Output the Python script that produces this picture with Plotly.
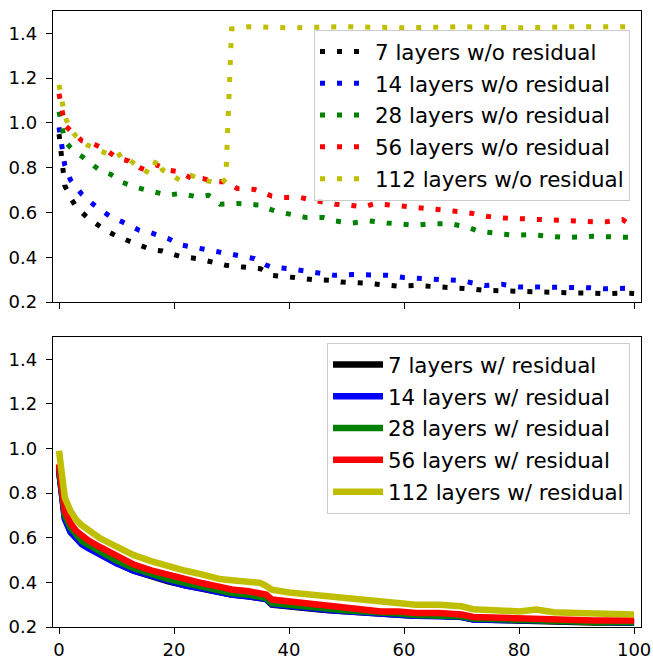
import plotly.graph_objects as go

# ---------------- data: top panel (w/o residual) ----------------
x_k_top = [0, 1, 2, 3, 5, 8, 10, 13, 16, 18, 21, 24, 27, 29, 32, 35, 36, 37, 41, 44, 47, 49, 53, 56, 59, 62, 65, 67, 70, 72, 74, 77, 80, 83, 86, 89, 92, 95, 98, 100]
y_k_top = [0.95, 0.72, 0.665, 0.625, 0.575, 0.522, 0.494, 0.464, 0.434, 0.428, 0.404, 0.394, 0.379, 0.364, 0.356, 0.349, 0.335, 0.319, 0.309, 0.300, 0.297, 0.289, 0.285, 0.279, 0.271, 0.274, 0.270, 0.267, 0.264, 0.258, 0.252, 0.249, 0.247, 0.244, 0.243, 0.241, 0.240, 0.237, 0.240, 0.238]

x_b_top = [0, 1, 2, 3, 4, 6, 8, 9, 11, 14, 16, 19, 21, 24, 26, 29, 31, 34, 36, 37, 40, 42, 45, 48, 51, 54, 57, 60, 63, 66, 69, 71, 72, 74, 77, 80, 83, 86, 89, 92, 95, 98, 100]
y_b_top = [0.98, 0.81, 0.745, 0.71, 0.68, 0.635, 0.595, 0.580, 0.558, 0.520, 0.509, 0.483, 0.456, 0.443, 0.431, 0.416, 0.409, 0.394, 0.365, 0.356, 0.349, 0.341, 0.334, 0.319, 0.323, 0.319, 0.319, 0.309, 0.304, 0.304, 0.297, 0.290, 0.285, 0.274, 0.279, 0.267, 0.267, 0.267, 0.264, 0.264, 0.259, 0.264, 0.262]

x_g_top = [0, 1, 2, 3, 4, 5, 7, 9, 11, 13, 14, 16, 19, 21, 24, 26, 27, 28, 31, 33, 35, 36, 38, 41, 43, 46, 48, 51, 54, 57, 60, 62, 65, 68, 70, 71, 73, 76, 79, 82, 85, 88, 91, 93, 96, 100]
y_g_top = [1.05, 0.92, 0.89, 0.865, 0.85, 0.83, 0.79, 0.77, 0.735, 0.715, 0.707, 0.695, 0.677, 0.685, 0.670, 0.677, 0.660, 0.637, 0.640, 0.636, 0.633, 0.620, 0.603, 0.588, 0.577, 0.577, 0.562, 0.553, 0.562, 0.553, 0.547, 0.543, 0.550, 0.550, 0.540, 0.535, 0.516, 0.506, 0.498, 0.501, 0.494, 0.488, 0.491, 0.494, 0.491, 0.488]

x_r_top = [0, 1, 2, 3, 4, 6, 8, 10, 12, 14, 15, 17, 19, 21, 23, 25, 27, 29, 31, 34, 36, 37, 39, 42, 44, 46, 48, 50, 53, 55, 58, 61, 64, 67, 70, 72, 73, 76, 79, 82, 84, 87, 90, 93, 95, 98, 99, 100]
y_r_top = [1.13, 0.99, 0.965, 0.94, 0.92, 0.906, 0.882, 0.845, 0.831, 0.800, 0.790, 0.812, 0.789, 0.782, 0.752, 0.752, 0.737, 0.737, 0.707, 0.703, 0.680, 0.673, 0.667, 0.667, 0.655, 0.645, 0.637, 0.633, 0.625, 0.640, 0.633, 0.628, 0.622, 0.610, 0.603, 0.595, 0.588, 0.577, 0.573, 0.568, 0.565, 0.565, 0.558, 0.558, 0.558, 0.568, 0.552, 0.560]

x_y_top = [0, 1, 2, 3, 5, 7, 9, 10, 11, 12, 14, 16, 17, 18, 19, 21, 22, 23, 24, 26, 27, 28, 29, 30, 33, 40, 50, 60, 70, 80, 90, 100]
y_y_top = [1.17, 1.03, 0.97, 0.94, 0.90, 0.875, 0.855, 0.848, 0.865, 0.840, 0.800, 0.772, 0.840, 0.790, 0.777, 0.745, 0.760, 0.765, 0.755, 0.740, 0.735, 0.725, 0.750, 1.420, 1.430, 1.425, 1.430, 1.425, 1.430, 1.425, 1.430, 1.430]

# ---------------- data: bottom panel (w/ residual) ----------------
x_bot = [0, 1, 2, 3, 4, 5, 7, 10, 13, 16, 19, 22, 25, 28, 30, 33, 35, 36, 37, 40, 43, 45, 47, 50, 53, 56, 59, 62, 66, 70, 72, 76, 80, 83, 86, 90, 93, 96, 100]
y_k_bot = [0.90, 0.69, 0.63, 0.60, 0.575, 0.56, 0.53, 0.488, 0.452, 0.427, 0.405, 0.387, 0.370, 0.355, 0.345, 0.338, 0.332, 0.325, 0.300, 0.290, 0.285, 0.280, 0.275, 0.270, 0.266, 0.258, 0.256, 0.250, 0.250, 0.245, 0.235, 0.231, 0.227, 0.225, 0.224, 0.223, 0.220, 0.220, 0.219]
y_b_bot = [0.91, 0.685, 0.625, 0.595, 0.57, 0.555, 0.525, 0.485, 0.452, 0.428, 0.403, 0.386, 0.372, 0.356, 0.346, 0.337, 0.333, 0.326, 0.302, 0.292, 0.285, 0.281, 0.276, 0.270, 0.267, 0.259, 0.255, 0.250, 0.249, 0.246, 0.234, 0.232, 0.228, 0.226, 0.224, 0.222, 0.221, 0.220, 0.220]
y_g_bot = [0.92, 0.70, 0.645, 0.61, 0.585, 0.57, 0.54, 0.498, 0.463, 0.437, 0.415, 0.397, 0.380, 0.364, 0.352, 0.344, 0.338, 0.330, 0.307, 0.298, 0.292, 0.286, 0.280, 0.274, 0.270, 0.262, 0.260, 0.254, 0.253, 0.248, 0.238, 0.234, 0.229, 0.228, 0.226, 0.225, 0.222, 0.222, 0.221]
y_r_bot = [0.93, 0.72, 0.665, 0.63, 0.61, 0.59, 0.56, 0.517, 0.480, 0.454, 0.433, 0.413, 0.396, 0.380, 0.368, 0.360, 0.353, 0.345, 0.323, 0.315, 0.307, 0.300, 0.293, 0.286, 0.281, 0.270, 0.270, 0.263, 0.263, 0.256, 0.245, 0.241, 0.236, 0.236, 0.233, 0.233, 0.229, 0.229, 0.229]
y_y_bot = [0.99, 0.78, 0.72, 0.68, 0.655, 0.635, 0.60, 0.56, 0.522, 0.495, 0.472, 0.452, 0.435, 0.415, 0.410, 0.403, 0.398, 0.385, 0.367, 0.355, 0.348, 0.340, 0.333, 0.328, 0.322, 0.315, 0.311, 0.300, 0.300, 0.293, 0.280, 0.274, 0.270, 0.278, 0.266, 0.263, 0.260, 0.260, 0.256]

labels_top = ["7 layers w/o residual", "14 layers w/o residual", "28 layers w/o residual",
              "56 layers w/o residual", "112 layers w/o residual"]
labels_bot = ["7 layers w/ residual", "14 layers w/ residual", "28 layers w/ residual",
              "56 layers w/ residual", "112 layers w/ residual"]
colors = ["#000000", "#0000ff", "#008000", "#ff0000", "#bfbf00"]

x_ticks = [0, 20, 40, 60, 80, 100]
y_ticks = [0.2, 0.4, 0.6, 0.8, 1.0, 1.2, 1.4]

top_x = [x_k_top, x_b_top, x_g_top, x_r_top, x_y_top]
top_y = [y_k_top, y_b_top, y_g_top, y_r_top, y_y_top]
bot_y = [y_k_bot, y_b_bot, y_g_bot, y_r_bot, y_y_bot]

fig = go.Figure()
for i in range(5):
    fig.add_trace(go.Scatter(
        x=top_x[i], y=top_y[i], mode="lines", name=labels_top[i],
        line=dict(color=colors[i], width=5, dash="5px,12px"),
        xaxis="x", yaxis="y", legend="legend", legendgroup="t%d" % i,
    ))
for i in range(5):
    fig.add_trace(go.Scatter(
        x=x_bot, y=bot_y[i], mode="lines", name=labels_bot[i],
        line=dict(color=colors[i], width=6.5),
        xaxis="x2", yaxis="y2", legend="legend2", legendgroup="b%d" % i,
    ))

axis_common = dict(showline=True, mirror=True, linecolor="black", linewidth=1.3,
                   ticks="outside", ticklen=6, tickwidth=1.3, tickcolor="black",
                   showgrid=False, zeroline=False, automargin=False,
                   tickfont=dict(family="DejaVu Sans", size=18, color="black"))

H = 660
t, b = 11, 33
ph = H - t - b
top_dom = [(627 - 302) / ph, 1.0]
bot_dom = [0.0, (627 - 337) / ph]

legend_common = dict(x=(630 - 53) / 588, xanchor="right", yanchor="top",
                     bgcolor="rgba(255,255,255,0.8)", bordercolor="#cccccc", borderwidth=1,
                     font=dict(family="DejaVu Sans", size=21.4, color="black"),
                     tracegroupgap=1, itemwidth=50)

fig.update_layout(
    width=653, height=660,
    margin=dict(l=53, r=12, t=t, b=b),
    paper_bgcolor="white", plot_bgcolor="white",
    font=dict(family="DejaVu Sans", color="black"),
    xaxis=dict(domain=[0, 1], range=[-1.05, 101.2], tickvals=x_ticks, showticklabels=False,
               anchor="y", **axis_common),
    yaxis=dict(domain=top_dom, range=[0.2, 1.5], tickvals=y_ticks,
               ticktext=["%.1f" % v for v in y_ticks], anchor="x",
               ticklabelstandoff=5, **axis_common),
    xaxis2=dict(domain=[0, 1], range=[-1.05, 101.2], tickvals=x_ticks, anchor="y2",
                ticklabelstandoff=0, **axis_common),
    yaxis2=dict(domain=bot_dom, range=[0.2, 1.5], tickvals=y_ticks,
                ticktext=["%.1f" % v for v in y_ticks], anchor="x2",
                ticklabelstandoff=5, **axis_common),
    legend=dict(y=(627 - 30) / ph, **legend_common),
    legend2=dict(y=(627 - 343) / ph, **legend_common),
    showlegend=True,
)

fig.write_html("out.html", config={"displayModeBar": False},
               post_script="document.body.style.margin='0';document.body.style.padding='0';")
